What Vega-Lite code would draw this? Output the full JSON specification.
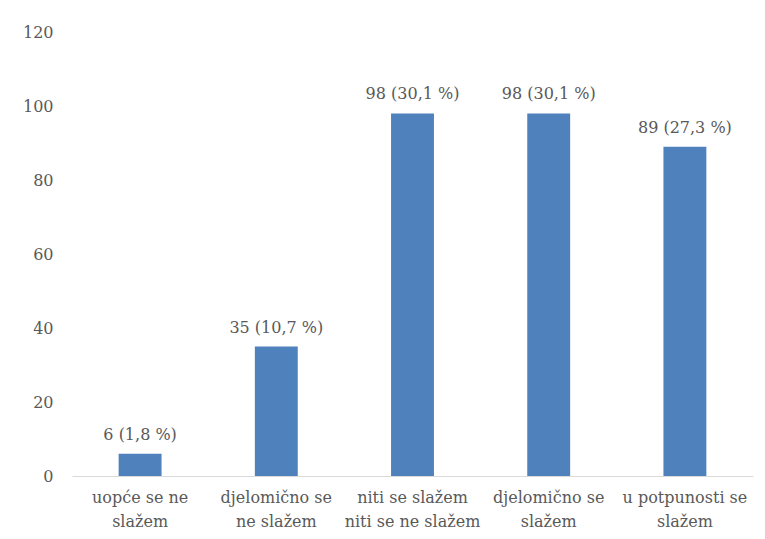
{
  "$schema": "https://vega.github.io/schema/vega-lite/v6.json",
  "autosize": {"type": "none"},
  "width": 681,
  "height": 444,
  "padding": {"left": 72, "top": 32, "right": 12, "bottom": 63},
  "background": "white",
  "config": {
    "view": {"stroke": null},
    "font": "DejaVu Serif",
    "axis": {"labelFont": "DejaVu Serif", "labelColor": "#595959", "labelFontSize": 16}
  },
  "data": {
    "values": [
      {"kategorija": "uopće se ne|slažem", "broj": 6, "oznaka": "6 (1,8 %)"},
      {"kategorija": "djelomično se|ne slažem", "broj": 35, "oznaka": "35 (10,7 %)"},
      {"kategorija": "niti se slažem|niti se ne slažem", "broj": 98, "oznaka": "98 (30,1 %)"},
      {"kategorija": "djelomično se|slažem", "broj": 98, "oznaka": "98 (30,1 %)"},
      {"kategorija": "u potpunosti se|slažem", "broj": 89, "oznaka": "89 (27,3 %)"}
    ]
  },
  "encoding": {
    "x": {
      "field": "kategorija",
      "type": "nominal",
      "sort": null,
      "scale": {"paddingInner": 0.685, "paddingOuter": 0.3425},
      "axis": {
        "title": null,
        "labelAngle": 0,
        "labelExpr": "split(datum.label, '|')",
        "labelLineHeight": 24,
        "labelPadding": 13,
        "ticks": false,
        "domainColor": "#d9d9d9",
        "domainWidth": 1
      }
    },
    "y": {
      "field": "broj",
      "type": "quantitative",
      "scale": {"domain": [0, 120]},
      "axis": {
        "title": null,
        "values": [0, 20, 40, 60, 80, 100, 120],
        "grid": false,
        "domain": false,
        "ticks": false,
        "labelPadding": 19
      }
    }
  },
  "layer": [
    {"mark": {"type": "bar", "color": "#4F81BD"}},
    {
      "mark": {"type": "text", "dy": -11, "baseline": "bottom", "fontSize": 16, "color": "#595959", "font": "DejaVu Serif"},
      "encoding": {"text": {"field": "oznaka"}}
    }
  ]
}
